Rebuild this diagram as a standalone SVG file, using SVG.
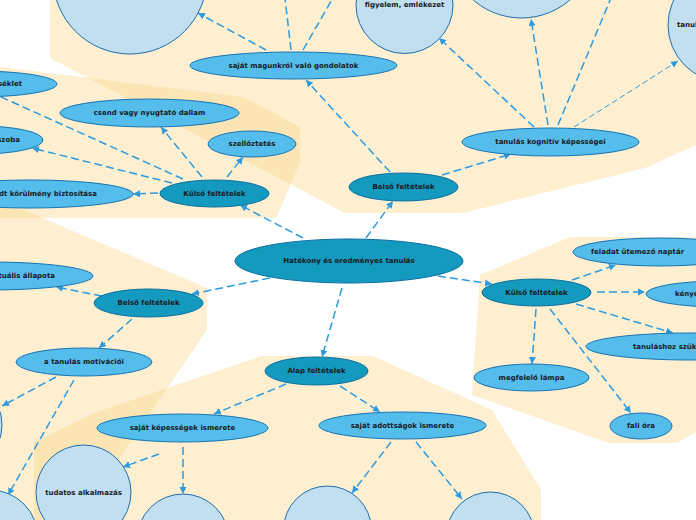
<svg xmlns="http://www.w3.org/2000/svg" width="696" height="520" viewBox="0 0 696 520">
<style>
.bg{fill:#FBD88A;fill-opacity:0.4;stroke:none}
.c{stroke:#2E9BDE;stroke-width:1.5;stroke-dasharray:8 4;fill:none}
.ct{stroke:#2E9BDE;stroke-width:1;stroke-dasharray:6 3;fill:none}
.dk{fill:#1499BF;stroke:#0E6FA0;stroke-width:1}
.lt{fill:#55BDEB;stroke:#1A74B3;stroke-width:1}
.ci{fill:#C2DEF1;stroke:#1B6FAE;stroke-width:1}
text{font-family:"DejaVu Sans","Verdana",sans-serif;font-weight:bold;font-size:7px;fill:#1a1a1a;text-anchor:middle;dominant-baseline:central}
</style>
<defs>
<marker id="ah" markerWidth="8" markerHeight="8" refX="7" refY="4" orient="auto" markerUnits="userSpaceOnUse">
<path d="M0,0.5 L7,4 L0,7.5 z" fill="#2E9BDE"/>
</marker>
</defs>
<g id="backgrounds">
<polygon class="bg" points="50,0 50,58 345,213 463,213 645,168 696,145 696,0"/>
<polygon class="bg" points="0,67 243,97 300,127 300,163 276,218 0,218"/>
<polygon class="bg" points="0,200 207,288 207,330 77,520 0,520"/>
<polygon class="bg" points="34,520 34,442 97,412 262,356 373,356 492,410 541,490 541,520"/>
<polygon class="bg" points="480,275 570,237 696,237 696,432 677,443 609,443 472,395"/>
</g>
<g id="connectors">
<line class="c" x1="366" y1="238" x2="393" y2="201" marker-end="url(#ah)"/>
<line class="c" x1="303" y1="238" x2="240" y2="205" marker-end="url(#ah)"/>
<line class="c" x1="270" y1="278" x2="192" y2="294" marker-end="url(#ah)"/>
<line class="c" x1="342" y1="288" x2="322" y2="357" marker-end="url(#ah)"/>
<line class="c" x1="438" y1="276" x2="492" y2="284" marker-end="url(#ah)"/>
<line class="c" x1="390" y1="172" x2="306" y2="80" marker-end="url(#ah)"/>
<line class="c" x1="442" y1="175" x2="511" y2="154" marker-end="url(#ah)"/>
<line class="c" x1="266" y1="50" x2="198" y2="13" marker-end="url(#ah)"/>
<line class="c" x1="291" y1="50" x2="285" y2="-2"/>
<line class="c" x1="303" y1="50" x2="333" y2="-2"/>
<line class="c" x1="534" y1="127" x2="439" y2="38" marker-end="url(#ah)"/>
<line class="c" x1="548" y1="125" x2="531" y2="19" marker-end="url(#ah)"/>
<line class="c" x1="558" y1="125" x2="611" y2="-2"/>
<line class="ct" x1="574" y1="127" x2="678" y2="61" marker-end="url(#ah)"/>
<line class="c" x1="202" y1="177" x2="161" y2="127" marker-end="url(#ah)"/>
<line class="c" x1="227" y1="177" x2="243" y2="157" marker-end="url(#ah)"/>
<line class="c" x1="158" y1="193" x2="133" y2="194" marker-end="url(#ah)"/>
<line class="c" x1="172" y1="183" x2="32" y2="148" marker-end="url(#ah)"/>
<line class="c" x1="183" y1="179" x2="-10" y2="92"/>
<line class="c" x1="102" y1="296" x2="56" y2="287" marker-end="url(#ah)"/>
<line class="c" x1="132" y1="319" x2="99" y2="348" marker-end="url(#ah)"/>
<line class="c" x1="56" y1="377" x2="2" y2="406" marker-end="url(#ah)"/>
<line class="c" x1="74" y1="380" x2="8" y2="495" marker-end="url(#ah)"/>
<line class="c" x1="286" y1="384" x2="214" y2="414" marker-end="url(#ah)"/>
<line class="c" x1="340" y1="386" x2="380" y2="412" marker-end="url(#ah)"/>
<line class="c" x1="159" y1="454" x2="123" y2="467" marker-end="url(#ah)"/>
<line class="c" x1="183" y1="447" x2="183" y2="494" marker-end="url(#ah)"/>
<line class="c" x1="391" y1="442" x2="352" y2="493" marker-end="url(#ah)"/>
<line class="c" x1="416" y1="442" x2="462" y2="499" marker-end="url(#ah)"/>
<line class="c" x1="572" y1="280" x2="616" y2="265" marker-end="url(#ah)"/>
<line class="c" x1="597" y1="292" x2="645" y2="292" marker-end="url(#ah)"/>
<line class="c" x1="576" y1="304" x2="673" y2="333" marker-end="url(#ah)"/>
<line class="c" x1="536" y1="309" x2="532" y2="364" marker-end="url(#ah)"/>
<line class="c" x1="550" y1="309" x2="631" y2="413" marker-end="url(#ah)"/>
</g>
<g id="n-center"><ellipse class="dk" cx="349" cy="261" rx="114" ry="22"/><text x="349" y="261">Hatékony és eredményes tanulás</text></g>
<g id="n-kulso-left"><ellipse class="dk" cx="214.5" cy="193.5" rx="54.5" ry="13.5"/><text x="214.5" y="193.5">Külső feltételek</text></g>
<g id="n-belso-top"><ellipse class="dk" cx="403.5" cy="187" rx="54.5" ry="14"/><text x="403.5" y="187">Belső feltételek</text></g>
<g id="n-kulso-right"><ellipse class="dk" cx="536.5" cy="292.5" rx="54.5" ry="13.5"/><text x="536.5" y="292.5">Külső feltételek</text></g>
<g id="n-belso-left"><ellipse class="dk" cx="148.5" cy="303" rx="54.5" ry="14"/><text x="148.5" y="303">Belső feltételek</text></g>
<g id="n-alap"><ellipse class="dk" cx="316.5" cy="371" rx="51.5" ry="14"/><text x="316.5" y="371">Alap feltételek</text></g>
<g id="n-magunkrol"><ellipse class="lt" cx="293.5" cy="65.5" rx="103.5" ry="13.5"/><text x="293.5" y="65.5">saját magunkról való gondolatok</text></g>
<g id="n-kognitiv"><ellipse class="lt" cx="550.5" cy="142" rx="88.5" ry="14"/><text x="550.5" y="142">tanulás kognitív képességei</text></g>
<g id="n-csend"><ellipse class="lt" cx="149.5" cy="113" rx="89.5" ry="14"/><text x="149.5" y="113">csend vagy nyugtató dallam</text></g>
<g id="n-szellozt"><ellipse class="lt" cx="252" cy="144" rx="44" ry="13"/><text x="252" y="144">szellőztetés</text></g>
<g id="n-homerseklet"><ellipse class="lt" cx="-23" cy="84" rx="80" ry="13"/><text x="22" y="84" style="text-anchor:end">séklet</text></g>
<g id="n-szoba"><ellipse class="lt" cx="-20" cy="140" rx="63" ry="14"/><text x="20" y="140" style="text-anchor:end">szoba</text></g>
<g id="n-korulmeny"><ellipse class="lt" cx="30" cy="194" rx="103" ry="14"/><text x="97" y="194" style="text-anchor:end">dt körülmény biztosítása</text></g>
<g id="n-allapota"><ellipse class="lt" cx="-10" cy="276" rx="103" ry="14"/><text x="55" y="276" style="text-anchor:end">tuális állapota</text></g>
<g id="n-motivacio"><ellipse class="lt" cx="84" cy="362" rx="68" ry="14"/><text x="84" y="362">a tanulás motivációi</text></g>
<g id="n-kepessegek"><ellipse class="lt" cx="182.5" cy="428" rx="85.5" ry="14"/><text x="182.5" y="428">saját képességek ismerete</text></g>
<g id="n-adottsagok"><ellipse class="lt" cx="402.5" cy="425.5" rx="83.5" ry="13.5"/><text x="402.5" y="425.5">saját adottságok ismerete</text></g>
<g id="n-naptar"><ellipse class="lt" cx="660" cy="252" rx="87" ry="14"/><text x="591" y="252" style="text-anchor:start">feladat ütemező naptár</text></g>
<g id="n-kenyelem"><ellipse class="lt" cx="720" cy="294" rx="74" ry="13"/><text x="675" y="294" style="text-anchor:start">kénye</text></g>
<g id="n-szukseges"><ellipse class="lt" cx="690" cy="346.5" rx="104" ry="13.5"/><text x="633" y="346.5" style="text-anchor:start">tanuláshoz szük</text></g>
<g id="n-lampa"><ellipse class="lt" cx="531.5" cy="377.5" rx="57.5" ry="13.5"/><text x="531.5" y="377.5">megfelelő lámpa</text></g>
<g id="n-ora"><ellipse class="lt" cx="641" cy="426" rx="31" ry="13"/><text x="641" y="426">fali óra</text></g>
<g id="n-circle-tl"><circle class="ci" cx="130" cy="-23" r="77"/></g>
<g id="n-figyelem"><circle class="ci" cx="404.5" cy="5" r="48.5"/><text x="404.5" y="5">figyelem, emlékezet</text></g>
<g id="n-circle-tm"><circle class="ci" cx="521.5" cy="-56" r="74"/></g>
<g id="n-circle-tr"><circle class="ci" cx="725" cy="25" r="57"/><text x="677" y="25" style="text-anchor:start">tanul</text></g>
<g id="n-circle-l1"><circle class="ci" cx="-45" cy="425" r="47"/></g>
<g id="n-circle-l2"><circle class="ci" cx="-10" cy="538" r="48"/></g>
<g id="n-tudatos"><circle class="ci" cx="83.5" cy="492.5" r="47.5"/><text x="83.5" y="492.5">tudatos alkalmazás</text></g>
<g id="n-circle-b1"><circle class="ci" cx="183" cy="540" r="46"/></g>
<g id="n-circle-b2"><circle class="ci" cx="327.5" cy="530" r="44"/></g>
<g id="n-circle-b3"><circle class="ci" cx="490.5" cy="536" r="44"/></g>
</svg>
